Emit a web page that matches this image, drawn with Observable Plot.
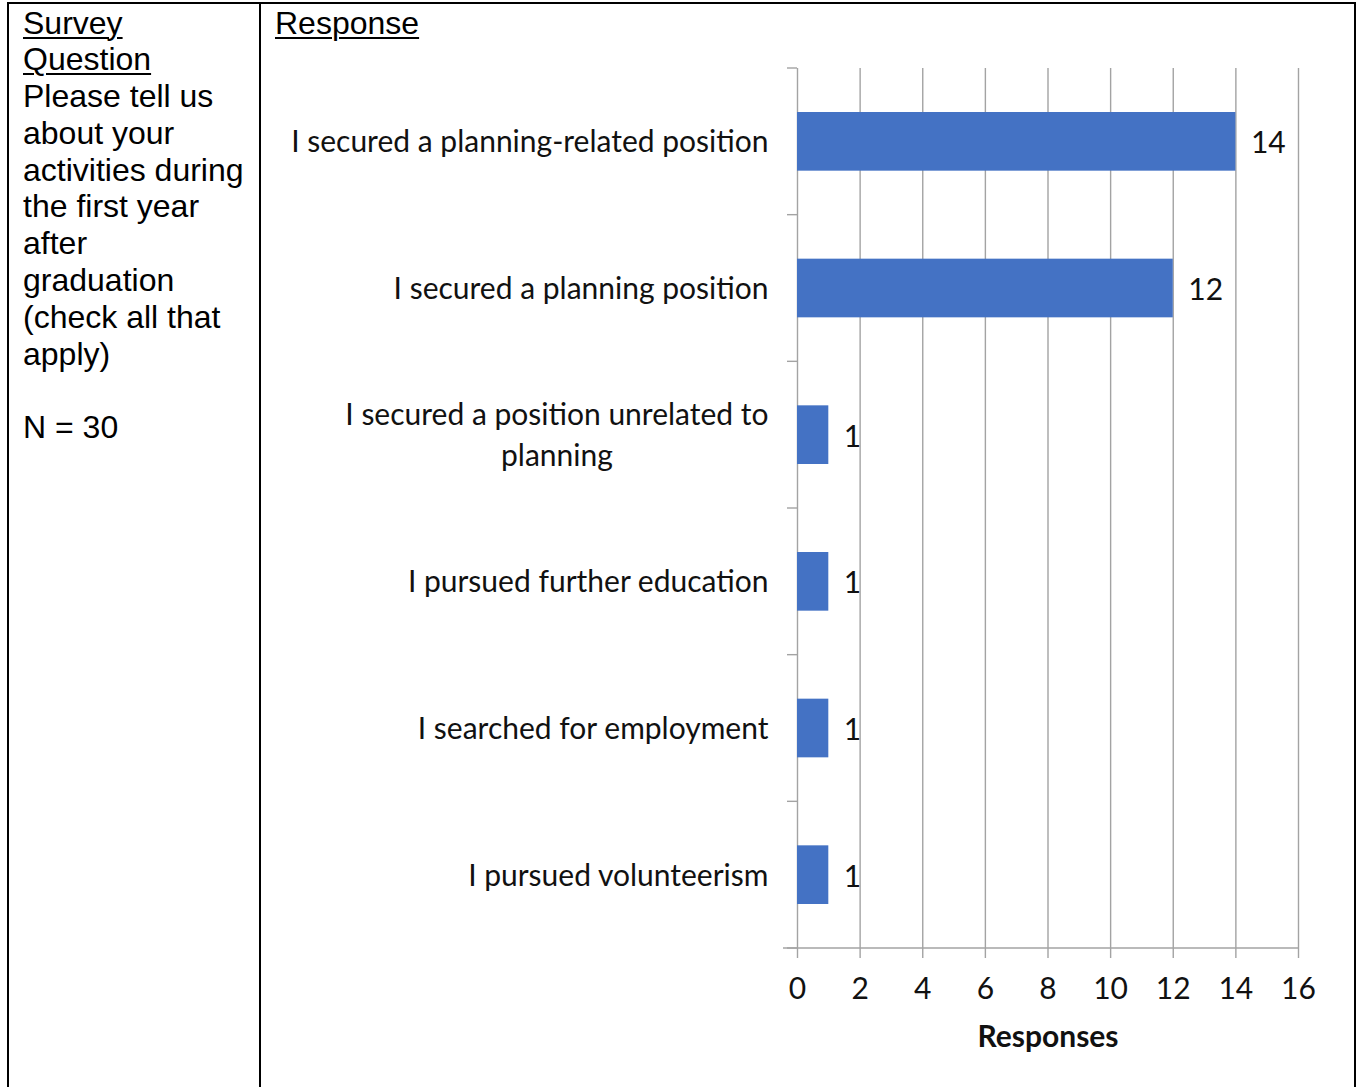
<!DOCTYPE html>
<html><head><meta charset="utf-8">
<script src="https://cdn.jsdelivr.net/npm/d3@7"></script>
<script src="https://cdn.jsdelivr.net/npm/@observablehq/plot@0.6"></script>
<style>
body{margin:0;background:#fff;}
#page{position:relative;width:1357px;height:1087px;overflow:hidden;font-family:"Liberation Sans",Arial,sans-serif;}
.b{position:absolute;background:#000;}
.cell{position:absolute;font-size:32px;line-height:36.8px;color:#000;white-space:nowrap;}
.cell u{text-decoration-thickness:2px;text-underline-offset:3px;}
#chart{position:absolute;left:0;top:0;}
</style></head><body>
<div id="page">
  <div id="chart"></div>
  <div class="b" style="left:7px;top:1.5px;width:1349px;height:2px"></div>
  <div class="b" style="left:7px;top:1.5px;width:2px;height:1090px"></div>
  <div class="b" style="left:259px;top:1.5px;width:2px;height:1090px"></div>
  <div class="b" style="left:1354px;top:1.5px;width:2px;height:1090px"></div>
  <div class="cell" style="left:23px;top:4.5px"><u>Survey</u><br><u>Question</u><br>Please tell us<br>about your<br>activities during<br>the first year<br>after<br>graduation<br>(check all that<br>apply)<br><br>N = 30</div>
  <div class="cell" style="left:275px;top:4.5px"><u>Response</u></div>
</div>
<script>
const categories = [
  "I secured a planning-related position",
  "I secured a planning position",
  "I secured a position unrelated to planning",
  "I pursued further education",
  "I searched for employment",
  "I pursued volunteerism"
];
const responses = [14, 12, 1, 1, 1, 1];
const xTicks = [0, 2, 4, 6, 8, 10, 12, 14, 16];
const wrappedLabels = new Map([
  ["I secured a position unrelated to planning", "I secured a position unrelated to\nplanning"]
]);

const data = categories.map((c, i) => ({category: c, value: responses[i]}));
const FONT = "Lato, 'Open Sans', sans-serif";
const ink = "#111";
const gridColor = "#a3a3a3";

const chart = Plot.plot({
  width: 1357,
  height: 1087,
  marginLeft: 797,
  marginRight: 59,
  marginTop: 68,
  marginBottom: 139,
  style: {background: "transparent", fontFamily: FONT, fontSize: "30px", color: ink, overflow: "visible"},
  x: {domain: [0, 16], ticks: xTicks},
  y: {domain: categories, paddingInner: 0.6, paddingOuter: 0.3, round: false},
  marks: [
    Plot.gridX(xTicks, {stroke: gridColor, strokeOpacity: 1, strokeWidth: 1.4}),
    Plot.barX(data, {x: "value", y: "category", fill: "#4472C4"}),
    Plot.text(data, {x: "value", y: "category", text: d => String(d.value), textAnchor: "start", dx: 15, dy: 2, fill: ink}),
    Plot.axisX({ticks: xTicks, tickSize: 10, tickPadding: 19, stroke: gridColor, strokeWidth: 1.4, fill: ink,
      label: "Responses", labelAnchor: "center", labelOffset: 98, labelArrow: "none"}),
    Plot.axisY({tickSize: 0, tickPadding: 29, fill: ink, dy: 1,
      tickFormat: d => wrappedLabels.get(d) ?? d, label: null})
  ]
});
document.getElementById("chart").appendChild(chart);

const svg = d3.select(chart);
const xs = chart.scale("x");
const ys = chart.scale("y");
svg.selectAll('g[aria-label="x-axis label"]').attr("font-weight", "bold");

// category-boundary ticks and bottom axis line, derived from the scales
const x0 = xs.apply(0), x1 = xs.apply(16);
const bounds = [];
categories.forEach((c, i) => {
  const mid = ys.apply(c) + ys.bandwidth / 2;
  if (i === 0) bounds.push(mid - ys.step / 2);
  bounds.push(mid + ys.step / 2);
});
const g = svg.append("g").attr("stroke", gridColor).attr("stroke-width", 1.4);
bounds.forEach(b => g.append("line").attr("x1", x0 - 10).attr("x2", x0).attr("y1", b).attr("y2", b));
g.append("line").attr("x1", x0 - 14).attr("x2", x1).attr("y1", bounds[bounds.length - 1]).attr("y2", bounds[bounds.length - 1]);

// wrapped label: centred lines, spaced like the original
const L = 1.37;
svg.selectAll('g[aria-label="y-axis tick label"] text').each(function() {
  const tspans = this.querySelectorAll("tspan");
  const n = tspans.length;
  if (n > 1) {
    const w0 = tspans[0].getComputedTextLength();
    tspans.forEach((t, k) => {
      const w = t.getComputedTextLength();
      t.setAttribute("x", -(w0 - w) / 2);
      t.removeAttribute("dy");
      t.setAttribute("y", `${0.32 + (k - (n - 1) / 2) * L}em`);
    });
  }
});
</script>
</body></html>
